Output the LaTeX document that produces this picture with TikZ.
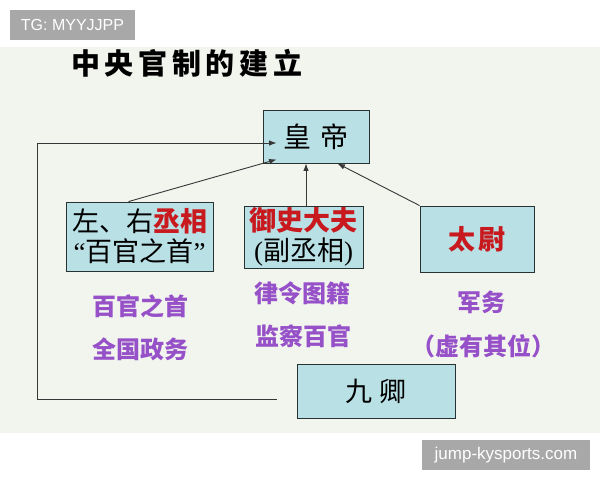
\documentclass[tikz,border=0pt]{standalone}
\usepackage{fontspec}
\setmainfont{Noto Sans CJK SC}
\newfontfamily\wmfont{Liberation Sans}
\newfontfamily\latinfont{Liberation Serif}
\newfontfamily\titlefont[LetterSpace=16]{Noto Sans CJK SC}
\usetikzlibrary{arrows.meta,calc}
\definecolor{paper}{RGB}{242,244,238}
\definecolor{boxfill}{RGB}{185,224,229}
\definecolor{boxline}{RGB}{40,50,50}
\definecolor{seal}{RGB}{200,25,30}
\definecolor{dutypurple}{RGB}{150,80,200}
\definecolor{linkgray}{RGB}{55,55,55}
\definecolor{wmgray}{RGB}{168,168,168}
\tikzset{office/.style={draw=boxline,fill=boxfill,line width=0.9pt,inner sep=0pt,align=center,
  font=\fontsize{27pt}{30pt}\selectfont},
  duty/.style={text=dutypurple,inner sep=0pt,font=\fontsize{24pt}{28pt}\selectfont\bfseries},
  link/.style={draw=linkgray,line width=0.9pt,-{Latex[length=7.5pt,width=5.5pt]}},
  wmbox/.style={fill=wmgray,text=white,inner sep=0pt,minimum height=30pt}}

\begin{document}
\begin{tikzpicture}[x=1pt,y=-1pt]
\useasboundingbox(0,0)rectangle(600,480);
\fill[paper](0,47)rectangle(600,433);
\node[wmbox,minimum width=125pt,font=\wmfont\fontsize{16pt}{18pt}\selectfont](tg)at(72.5,25){TG: MYYJJPP};
\node[wmbox,minimum width=168pt,font=\wmfont\fontsize{17pt}{19pt}\selectfont](site)at(506,455){jump-kysports.com};
\node[anchor=west,inner sep=0pt,font=\titlefont\fontsize{29pt}{32pt}\selectfont\bfseries](title)at(71,63){中央官制的建立};
% offices
\node[office,minimum width=106pt,minimum height=53pt,font=\fontsize{28pt}{30pt}\selectfont](huangdi)at(316,136.5){皇\hspace{9pt}帝};
\node[office,minimum width=147pt,minimum height=69pt](chengxiang)at(139.5,236.5){左、右\textcolor{seal}{\bfseries 丞相}\\{\latinfont “}百官之首{\latinfont ”}};
\node[office,minimum width=119pt,minimum height=62pt](yushi)at(303.5,237){\textcolor{seal}{\bfseries 御史大夫}\\{\latinfont (}副丞相{\latinfont )}};
\node[office,minimum width=114pt,minimum height=66pt,text=seal,font=\fontsize{27pt}{30pt}\selectfont\bfseries](taiwei)at(477,239){太\hspace{3pt}尉};
\node[office,minimum width=158pt,minimum height=54pt](jiuqing)at(376,391){九\hspace{8pt}卿};
% duties
\node[duty](cx1)at(140,306){百官之首};\node[duty](cx2)at(140,349){全国政务};
\node[duty](ys1)at(302,293){律令图籍};\node[duty](ys2)at(303,336){监察百官};
\node[duty](tw1)at(481,302){军务};\node[duty](tw2)at(483,346){（虚有其位）};
% links
\coordinate(bend)at(37,399);
\draw[link]($(chengxiang.north west)+(63,0)$)--($(huangdi.south west)+(14,-4)$);
\draw[link]($(yushi.north)+(2.5,0)$)--($(yushi.north |- huangdi.south)+(2.5,0)$);
\draw[link](taiwei.north west)--($(huangdi.south east)+(-32,0)$);
\draw[link]($(jiuqing.west)+(-20,8)$)--(bend)|-($(huangdi.west)+(14,6.5)$);
\end{tikzpicture}
\end{document}
